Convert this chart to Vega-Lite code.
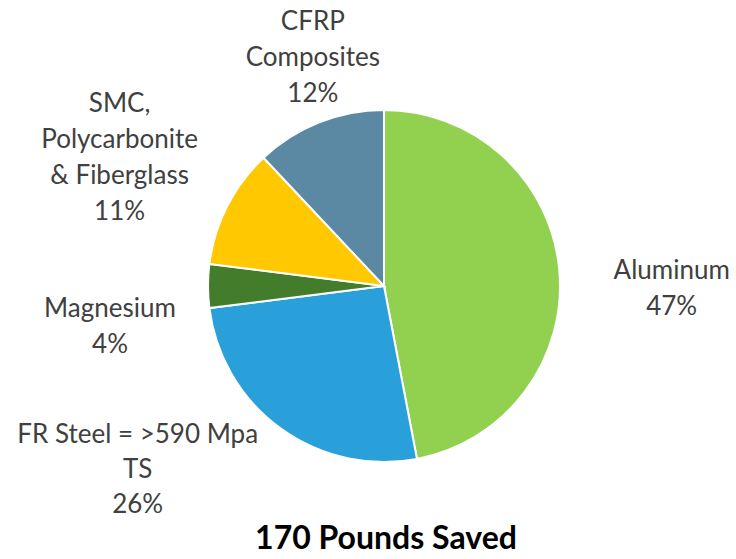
{
  "$schema": "https://vega.github.io/schema/vega-lite/v6.json",
  "width": 704,
  "height": 546,
  "autosize": {"type": "none"},
  "padding": {"left": 32, "top": 13, "right": 0, "bottom": 0},
  "background": "white",
  "title": {"text": "170 Pounds Saved", "orient": "bottom", "offset": -35, "fontSize": 32, "font": "Lato", "fontWeight": "bold", "color": "#000000", "dx": 2},
  "data": {"values": [
    {"material": "Aluminum", "share": 47, "rank": 1, "label": "Aluminum\n47%"},
    {"material": "FR Steel", "share": 26, "rank": 2, "label": "FR Steel = >590 Mpa\nTS\n26%"},
    {"material": "Magnesium", "share": 4, "rank": 3, "label": "Magnesium\n4%"},
    {"material": "SMC", "share": 11, "rank": 4, "label": "SMC,\nPolycarbonite\n& Fiberglass\n11%"},
    {"material": "CFRP", "share": 12, "rank": 5, "label": "CFRP\nComposites\n12%"}
  ]},
  "encoding": {
    "theta": {"field": "share", "type": "quantitative", "stack": true},
    "order": {"field": "rank", "type": "quantitative"}
  },
  "layer": [
    {
      "mark": {"type": "arc", "radius": 176, "stroke": "white", "strokeWidth": 2},
      "encoding": {
        "color": {"field": "material", "type": "nominal", "legend": null,
          "scale": {"domain": ["Aluminum", "FR Steel", "Magnesium", "SMC", "CFRP"],
                    "range": ["#92D050", "#2AA0DA", "#437D2C", "#FFC800", "#5B88A3"]}}
      }
    },
    {
      "mark": {"type": "text", "radius": 290, "dx": -1, "dy": 12, "fontSize": 26, "font": "Lato", "color": "#404040", "lineBreak": "\n", "lineHeight": 36, "align": "center", "baseline": "middle"},
      "encoding": {"text": {"condition": {"test": "datum.material === 'Aluminum'", "field": "label", "type": "nominal"}, "value": ""}}
    },
    {
      "mark": {"type": "text", "radius": 300, "dx": -70, "dy": -94, "fontSize": 26, "font": "Lato", "color": "#404040", "lineBreak": "\n", "lineHeight": 35, "align": "center", "baseline": "middle"},
      "encoding": {"text": {"condition": {"test": "datum.material === 'FR Steel'", "field": "label", "type": "nominal"}, "value": ""}}
    },
    {
      "mark": {"type": "text", "radius": 274, "dx": 0, "dy": 23, "fontSize": 26, "font": "Lato", "color": "#404040", "lineBreak": "\n", "lineHeight": 36, "align": "center", "baseline": "middle"},
      "encoding": {"text": {"condition": {"test": "datum.material === 'Magnesium'", "field": "label", "type": "nominal"}, "value": ""}}
    },
    {
      "mark": {"type": "text", "radius": 290, "dx": -6, "dy": -50, "fontSize": 26, "font": "Lato", "color": "#404040", "lineBreak": "\n", "lineHeight": 36, "align": "center", "baseline": "middle"},
      "encoding": {"text": {"condition": {"test": "datum.material === 'SMC'", "field": "label", "type": "nominal"}, "value": ""}}
    },
    {
      "mark": {"type": "text", "radius": 245, "dx": 19, "dy": -36, "fontSize": 26, "font": "Lato", "color": "#404040", "lineBreak": "\n", "lineHeight": 36, "align": "center", "baseline": "middle"},
      "encoding": {"text": {"condition": {"test": "datum.material === 'CFRP'", "field": "label", "type": "nominal"}, "value": ""}}
    }
  ],
  "config": {"view": {"stroke": null}}
}
